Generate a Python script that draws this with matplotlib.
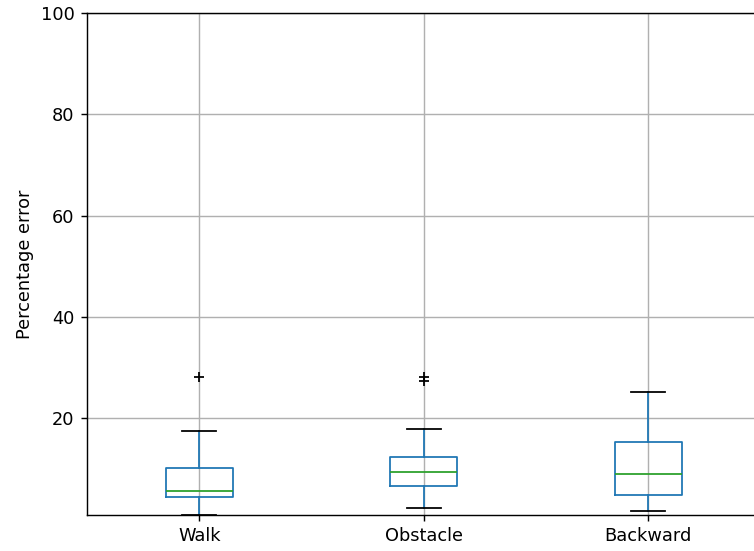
import matplotlib
matplotlib.use("Agg")
import matplotlib.pyplot as plt

labels = ["Walk", "Obstacle", "Backward"]
whislo = [0.84, 2.2, 1.6]
q1 = [4.4, 6.6, 4.8]
med = [5.6, 9.3, 8.9]
q3 = [10.1, 12.3, 15.3]
whishi = [17.4, 17.8, 25.1]
fliers = [[28.1], [28.1, 27.3], []]

stats = []
for i in range(len(labels)):
    stats.append(dict(label=labels[i], whislo=whislo[i], q1=q1[i], med=med[i],
                      q3=q3[i], whishi=whishi[i], fliers=fliers[i]))

# the reference looks like a ~1.28x upscale, so draw small and save at high dpi
dpi = 128
fig = plt.figure(figsize=(754/dpi, 551/dpi), dpi=dpi)
ax = fig.add_axes([87/754, 36/551, 673.5/754, 502/551])

ax.bxp(stats, showfliers=True,
       boxprops=dict(color="#1f77b4"),
       whiskerprops=dict(color="#1f77b4"),
       medianprops=dict(color="#2ca02c"),
       capprops=dict(color="k"),
       flierprops=dict(marker="+", markeredgecolor="k", markersize=6))

ax.grid(True)
ax.set_axisbelow(True)
ax.set_ylim(0.84, 100)
ax.set_xlim(0.5, 3.5)
ax.set_yticks([20, 40, 60, 80, 100])
ax.set_ylabel("Percentage error")

fig.savefig("out.png", dpi=dpi)
